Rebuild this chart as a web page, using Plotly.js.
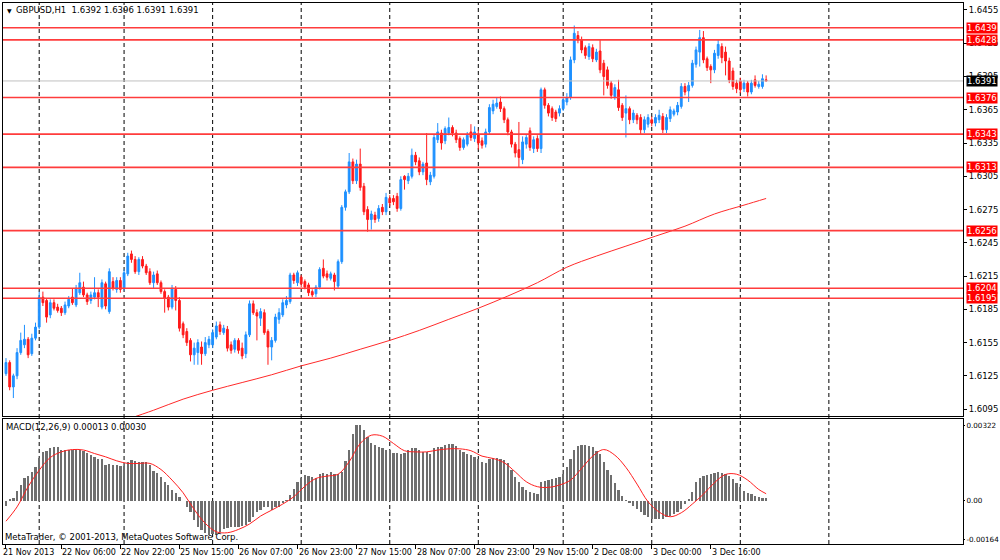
<!DOCTYPE html>
<html><head><meta charset="utf-8">
<script src="https://cdn.plot.ly/plotly-3.0.1.min.js"></script>
<style>html,body{margin:0;padding:0;background:#fff}#chart{width:1000px;height:560px}</style>
</head><body><div id="chart"></div>
<script>
// ---- price data (GBPUSD H1), one value per bar ----
const opens=[
1.6127,1.6137,1.6115,1.6125,1.6146,1.6153,1.6158,1.6145,1.6159,1.6169,
1.6196,1.6193,1.6180,1.6191,1.6187,1.6186,1.6182,1.6188,1.6196,1.6189,
1.6200,1.6205,1.6198,1.6193,1.6196,1.6200,1.6187,1.6208,1.6183,1.6210,
1.6203,1.6211,1.6204,1.6217,1.6235,1.6230,1.6219,1.6230,1.6224,1.6219,
1.6209,1.6217,1.6209,1.6201,1.6196,1.6187,1.6203,1.6193,1.6172,1.6165,
1.6157,1.6144,1.6146,1.6151,1.6145,1.6153,1.6153,1.6160,1.6171,1.6164,
1.6167,1.6153,1.6149,1.6157,1.6150,1.6145,1.6162,1.6190,1.6182,1.6177,
1.6182,1.6165,1.6151,1.6157,1.6176,1.6180,1.6189,1.6192,1.6216,1.6209,
1.6214,1.6210,1.6207,1.6201,1.6199,1.6205,1.6222,1.6217,1.6213,1.6216,
1.6206,1.6228,1.6277,1.6291,1.6318,1.6301,1.6316,1.6296,1.6275,1.6266,
1.6270,1.6267,1.6277,1.6273,1.6285,1.6285,1.6287,1.6276,1.6305,1.6301,
1.6305,1.6324,1.6319,1.6309,1.6317,1.6300,1.6305,1.6338,1.6344,1.6337,
1.6344,1.6349,1.6344,1.6339,1.6331,1.6334,1.6345,1.6339,1.6343,1.6337,
1.6334,1.6345,1.6364,1.6368,1.6372,1.6366,1.6356,1.6345,1.6334,1.6329,
1.6320,1.6334,1.6346,1.6330,1.6339,1.6330,1.6383,1.6369,1.6366,1.6363,
1.6362,1.6366,1.6372,1.6376,1.6410,1.6432,1.6428,1.6421,1.6413,1.6421,
1.6410,1.6418,1.6407,1.6401,1.6389,1.6377,1.6383,1.6369,1.6362,1.6366,
1.6356,1.6360,1.6358,1.6347,1.6352,1.6356,1.6353,1.6356,1.6359,1.6347,
1.6357,1.6361,1.6363,1.6368,1.6386,1.6382,1.6387,1.6406,1.6417,1.6430,
1.6411,1.6404,1.6401,1.6414,1.6422,1.6417,1.6409,1.6400,1.6389,1.6391,
1.6384,1.6389,1.6381,1.6392,1.6386,1.6386,1.6392];
const highs=[
1.6141,1.6139,1.6127,1.6150,1.6164,1.6171,1.6160,1.6163,1.6173,1.6201,
1.6201,1.6195,1.6194,1.6194,1.6190,1.6188,1.6192,1.6197,1.6204,1.6207,
1.6218,1.6210,1.6200,1.6201,1.6214,1.6203,1.6212,1.6210,1.6222,1.6214,
1.6214,1.6214,1.6221,1.6236,1.6238,1.6233,1.6232,1.6233,1.6226,1.6222,
1.6219,1.6220,1.6211,1.6203,1.6198,1.6207,1.6206,1.6196,1.6174,1.6168,
1.6159,1.6155,1.6158,1.6156,1.6160,1.6161,1.6167,1.6174,1.6174,1.6171,
1.6170,1.6156,1.6159,1.6159,1.6155,1.6165,1.6193,1.6193,1.6185,1.6186,
1.6185,1.6167,1.6160,1.6181,1.6186,1.6194,1.6197,1.6218,1.6218,1.6220,
1.6216,1.6212,1.6209,1.6203,1.6207,1.6223,1.6230,1.6220,1.6219,1.6218,
1.6230,1.6279,1.6293,1.6326,1.6321,1.6320,1.6330,1.6299,1.6278,1.6274,
1.6273,1.6279,1.6280,1.6290,1.6288,1.6288,1.6290,1.6305,1.6306,1.6308,
1.6330,1.6327,1.6322,1.6318,1.6344,1.6309,1.6343,1.6353,1.6347,1.6350,
1.6358,1.6351,1.6347,1.6341,1.6340,1.6345,1.6352,1.6350,1.6347,1.6340,
1.6348,1.6370,1.6374,1.6376,1.6377,1.6368,1.6358,1.6347,1.6336,1.6354,
1.6341,1.6343,1.6349,1.6341,1.6342,1.6385,1.6385,1.6371,1.6368,1.6365,
1.6369,1.6377,1.6380,1.6413,1.6441,1.6436,1.6431,1.6423,1.6425,1.6424,
1.6420,1.6428,1.6410,1.6404,1.6391,1.6388,1.6392,1.6371,1.6378,1.6368,
1.6365,1.6362,1.6361,1.6359,1.6361,1.6359,1.6361,1.6365,1.6362,1.6361,
1.6368,1.6366,1.6372,1.6389,1.6389,1.6390,1.6410,1.6422,1.6437,1.6436,
1.6413,1.6406,1.6419,1.6428,1.6425,1.6422,1.6412,1.6403,1.6392,1.6394,
1.6392,1.6391,1.6392,1.6396,1.6391,1.6397,1.6396];
const lows=[
1.6125,1.6112,1.6105,1.6122,1.6144,1.6150,1.6141,1.6143,1.6157,1.6167,
1.6188,1.6173,1.6177,1.6184,1.6182,1.6179,1.6180,1.6186,1.6189,1.6187,
1.6198,1.6196,1.6189,1.6190,1.6194,1.6187,1.6185,1.6185,1.6181,1.6202,
1.6200,1.6200,1.6202,1.6215,1.6227,1.6217,1.6216,1.6222,1.6216,1.6207,
1.6204,1.6207,1.6199,1.6182,1.6184,1.6185,1.6184,1.6165,1.6159,1.6152,
1.6138,1.6135,1.6135,1.6135,1.6143,1.6150,1.6150,1.6158,1.6162,1.6162,
1.6147,1.6145,1.6146,1.6145,1.6140,1.6141,1.6160,1.6180,1.6157,1.6170,
1.6162,1.6135,1.6139,1.6155,1.6172,1.6178,1.6186,1.6190,1.6208,1.6206,
1.6205,1.6203,1.6197,1.6196,1.6196,1.6203,1.6213,1.6211,1.6211,1.6202,
1.6204,1.6226,1.6274,1.6289,1.6298,1.6298,1.6292,1.6270,1.6255,1.6257,
1.6263,1.6264,1.6270,1.6270,1.6278,1.6279,1.6273,1.6274,1.6293,1.6298,
1.6303,1.6315,1.6306,1.6306,1.6297,1.6297,1.6303,1.6335,1.6329,1.6334,
1.6342,1.6341,1.6335,1.6328,1.6329,1.6332,1.6337,1.6336,1.6329,1.6330,
1.6331,1.6343,1.6361,1.6366,1.6363,1.6353,1.6342,1.6331,1.6322,1.6313,
1.6316,1.6330,1.6328,1.6326,1.6327,1.6326,1.6366,1.6359,1.6355,1.6354,
1.6359,1.6364,1.6369,1.6374,1.6407,1.6425,1.6416,1.6411,1.6410,1.6408,
1.6408,1.6398,1.6378,1.6384,1.6375,1.6374,1.6364,1.6355,1.6340,1.6352,
1.6353,1.6352,1.6343,1.6344,1.6349,1.6350,1.6350,1.6353,1.6344,1.6344,
1.6354,1.6359,1.6360,1.6366,1.6378,1.6372,1.6385,1.6403,1.6404,1.6407,
1.6400,1.6389,1.6398,1.6411,1.6407,1.6396,1.6389,1.6383,1.6380,1.6380,
1.6381,1.6377,1.6379,1.6385,1.6384,1.6384,1.6391];
const closes=[
1.6137,1.6115,1.6125,1.6146,1.6157,1.6158,1.6144,1.6159,1.6169,1.6196,
1.6191,1.6178,1.6191,1.6186,1.6184,1.6182,1.6189,1.6194,1.6191,1.6204,
1.6209,1.6198,1.6192,1.6198,1.6200,1.6196,1.6209,1.6188,1.6219,1.6204,
1.6211,1.6203,1.6218,1.6233,1.6230,1.6219,1.6230,1.6224,1.6218,1.6209,
1.6216,1.6209,1.6201,1.6195,1.6187,1.6204,1.6193,1.6168,1.6162,1.6155,
1.6144,1.6150,1.6155,1.6145,1.6155,1.6158,1.6164,1.6170,1.6165,1.6168,
1.6150,1.6148,1.6157,1.6148,1.6143,1.6162,1.6190,1.6182,1.6179,1.6183,
1.6164,1.6151,1.6157,1.6178,1.6182,1.6191,1.6193,1.6216,1.6211,1.6218,
1.6208,1.6205,1.6200,1.6198,1.6205,1.6221,1.6215,1.6214,1.6217,1.6210,
1.6228,1.6277,1.6291,1.6318,1.6301,1.6316,1.6295,1.6273,1.6266,1.6271,
1.6266,1.6276,1.6273,1.6286,1.6281,1.6282,1.6276,1.6302,1.6302,1.6305,
1.6324,1.6318,1.6309,1.6316,1.6302,1.6306,1.6340,1.6345,1.6335,1.6348,
1.6349,1.6344,1.6338,1.6331,1.6338,1.6342,1.6340,1.6345,1.6335,1.6333,
1.6345,1.6367,1.6370,1.6371,1.6366,1.6356,1.6345,1.6334,1.6326,1.6322,
1.6336,1.6340,1.6331,1.6338,1.6330,1.6383,1.6369,1.6362,1.6358,1.6357,
1.6366,1.6374,1.6376,1.6410,1.6434,1.6428,1.6419,1.6414,1.6422,1.6411,
1.6417,1.6401,1.6395,1.6387,1.6378,1.6385,1.6367,1.6358,1.6366,1.6356,
1.6362,1.6356,1.6347,1.6356,1.6358,1.6353,1.6358,1.6360,1.6347,1.6358,
1.6365,1.6364,1.6369,1.6386,1.6381,1.6387,1.6407,1.6419,1.6430,1.6410,
1.6403,1.6401,1.6416,1.6424,1.6412,1.6409,1.6392,1.6386,1.6384,1.6383,
1.6389,1.6381,1.6389,1.6387,1.6388,1.6393,1.6391];

// moving average (red line in price pane), read at selected bars
const maBars=[33,40,48,56,64,72,80,88,96,104,112,120,128,136,144,152,160,168,176,184,192,200,206];
const maVals=[1.6086,1.6094,1.6104,1.6112,1.6119,1.6126,1.6134,1.6141,1.6149,1.6157,1.6166,1.6176,1.6186,1.6197,1.6209,1.6223,1.6233,1.6242,1.6251,1.6260,1.6271,1.6279,1.6285];

// MACD(12,26,9) main histogram, one value per bar
const macdHist=[
-0.00023,0.00006,0.00010,0.00043,0.00067,0.00095,0.00105,0.00123,0.00142,0.00180,
0.00208,0.00213,0.00223,0.00227,0.00227,0.00218,0.00216,0.00216,0.00216,0.00218,
0.00218,0.00213,0.00204,0.00194,0.00187,0.00176,0.00176,0.00152,0.00156,0.00152,
0.00152,0.00147,0.00147,0.00166,0.00173,0.00170,0.00166,0.00166,0.00166,0.00152,
0.00128,0.00119,0.00102,0.00081,0.00067,0.00045,0.00031,0.00014,-0.00002,-0.00026,
-0.00047,-0.00082,-0.00111,-0.00125,-0.00136,-0.00146,-0.00142,-0.00146,-0.00132,-0.00122,
-0.00118,-0.00113,-0.00113,-0.00111,-0.00108,-0.00104,-0.00089,-0.00068,-0.00047,-0.00040,
-0.00028,-0.00026,-0.00040,-0.00028,-0.00026,-0.00011,0.00003,0.00024,0.00052,0.00081,
0.00095,0.00109,0.00105,0.00102,0.00095,0.00113,0.00119,0.00116,0.00123,0.00113,
0.00113,0.00123,0.00170,0.00215,0.00286,0.00322,0.00322,0.00301,0.00272,0.00247,
0.00237,0.00227,0.00223,0.00218,0.00216,0.00204,0.00204,0.00201,0.00204,0.00216,
0.00223,0.00223,0.00218,0.00208,0.00208,0.00199,0.00223,0.00227,0.00227,0.00237,
0.00241,0.00241,0.00233,0.00218,0.00208,0.00201,0.00194,0.00187,0.00176,0.00166,
0.00162,0.00176,0.00183,0.00183,0.00176,0.00173,0.00159,0.00130,0.00102,0.00081,
0.00057,0.00045,0.00038,0.00031,0.00028,0.00081,0.00085,0.00088,0.00092,0.00095,
0.00102,0.00113,0.00142,0.00176,0.00218,0.00233,0.00237,0.00237,0.00233,0.00230,
0.00213,0.00201,0.00166,0.00130,0.00109,0.00077,0.00045,0.00020,0.00003,-0.00009,
-0.00023,-0.00033,-0.00047,-0.00061,-0.00071,-0.00077,-0.00079,-0.00077,-0.00079,-0.00071,
-0.00065,-0.00057,-0.00047,-0.00033,-0.00014,0.00006,0.00038,0.00081,0.00099,0.00106,
0.00109,0.00112,0.00119,0.00123,0.00119,0.00116,0.00105,0.00091,0.00077,0.00057,
0.00043,0.00034,0.00028,0.00020,0.00014,0.00010,0.00013];

// MACD signal line, read at selected bars
const sigBars=[0,3,6,9,12,15,18,21,24,27,30,33,36,39,42,45,48,51,54,57,60,63,66,69,72,75,78,81,84,87,90,93,96,99,102,105,
108,111,114,117,120,123,126,129,132,135,138,141,144,147,150,153,156,159,162,165,168,171,174,177,180,183,186,189,192,195,198,201,204,206];
const sigVals=[-0.00087,-0.00026,0.00060,0.00130,0.00184,0.00208,0.00218,0.00216,0.00201,0.00187,0.00170,0.00159,0.00159,0.00159,0.00133,0.00088,0.00034,-0.00037,-0.00096,-0.00132,-0.00136,-0.00122,-0.00099,-0.00065,-0.00040,-0.00014,0.00017,0.00062,0.00095,0.00105,0.00113,0.00166,0.00244,0.00279,0.00275,0.00244,
0.00213,0.00208,0.00208,0.00216,0.00221,0.00221,0.00213,0.00190,0.00180,0.00162,0.00123,0.00081,0.00060,0.00057,0.00067,0.00088,0.00138,0.00190,0.00218,0.00194,0.00142,0.00071,-0.00004,-0.00048,-0.00068,-0.00051,-0.00014,0.00028,0.00077,0.00112,0.00113,0.00088,0.00048,0.00030];

// horizontal levels and current price
const levels=[1.6439,1.6428,1.6376,1.6343,1.6313,1.6256,1.6204,1.6195];
const currentPrice=1.6391;
const priceTicks=[1.6095,1.6125,1.6155,1.6185,1.6215,1.6245,1.6275,1.6305,1.6335,1.6365,1.6395,1.6425,1.6455];
const macdTicks=[0.00322,0,-0.00164];
const macdTickText=['0.00322','0.00','-0.00164'];

// time axis
const labelBars=[0,15,31,47,63,79,95,111,127,143,159,175,191];
const labelTexts=['21 Nov 2013','22 Nov 06:00','22 Nov 22:00','25 Nov 15:00','26 Nov 07:00','26 Nov 23:00','27 Nov 15:00','28 Nov 07:00','28 Nov 23:00','29 Nov 15:00','2 Dec 08:00','3 Dec 00:00','3 Dec 16:00'];
const gridBars=[9,32,56,80,104,128,151,175,199,223];

const headerText='GBPUSD,H1\u00a0\u00a01.6392 1.6396 1.6391 1.6391';
const macdText='MACD(12,26,9) 0.00013 0.00030';
const copyText='MetaTrader, \u00a9 2001-2013, MetaQuotes Software Corp.';

// ---- drawing ----
const bars=closes.map((_,i)=>i);
const FONT='DejaVu Sans, Verdana, sans-serif';
const XR=[-0.81,259.35];
const py=y=>(544-y)/541;   // pixel row -> paper y
const px=x=>(x-3)/960;     // pixel col -> paper x

const traces=[
 {type:'candlestick',x:bars,open:opens,high:highs,low:lows,close:closes,xaxis:'x',yaxis:'y',
  increasing:{line:{color:'#1e90ff',width:1},fillcolor:'#1e90ff'},
  decreasing:{line:{color:'#ff1a1a',width:1},fillcolor:'#ff1a1a'},
  whiskerwidth:0,hoverinfo:'skip'},
 {type:'scatter',mode:'lines',x:maBars,y:maVals,xaxis:'x',yaxis:'y',line:{color:'#ff2a2a',width:1,shape:'spline'},hoverinfo:'skip'},
 {type:'bar',x:bars,y:macdHist,xaxis:'x2',yaxis:'y2',width:0.62,marker:{color:'#6e6e6e',line:{width:0}},hoverinfo:'skip'},
 {type:'scatter',mode:'lines',x:sigBars,y:sigVals,xaxis:'x2',yaxis:'y2',line:{color:'#ff2020',width:1,shape:'spline'},hoverinfo:'skip'}
];

const shapes=[];
gridBars.forEach(g=>shapes.push({type:'line',xref:'x',yref:'paper',x0:g,x1:g,y0:0,y1:1,layer:'below',line:{color:'#000',width:1,dash:'4px,3px'}}));
shapes.push({type:'line',xref:'paper',yref:'y',x0:0,x1:1,y0:currentPrice,y1:currentPrice,line:{color:'#c0c0c0',width:1}});
levels.forEach(l=>shapes.push({type:'line',xref:'paper',yref:'y',x0:0,x1:1,y0:l,y1:l,line:{color:'#ff3c3c',width:1.6}}));

const annotations=[];
levels.forEach(l=>annotations.push({xref:'paper',yref:'y',x:px(966),y:l,xanchor:'left',yanchor:'middle',showarrow:false,
  text:l.toFixed(4),bgcolor:'#ff0000',borderpad:0,font:{family:FONT,size:8.5,color:'#fff'}}));
annotations.push({xref:'paper',yref:'y',x:px(966),y:currentPrice,xanchor:'left',yanchor:'middle',showarrow:false,
  text:currentPrice.toFixed(4),bgcolor:'#000',borderpad:0,font:{family:FONT,size:8.5,color:'#fff'}});
annotations.push({xref:'paper',yref:'paper',x:px(5),y:py(10),xanchor:'left',yanchor:'middle',showarrow:false,text:'\u25BC',font:{family:FONT,size:6,color:'#000'}});
annotations.push({xref:'paper',yref:'paper',x:px(14),y:py(10),xanchor:'left',yanchor:'middle',showarrow:false,text:headerText,font:{family:FONT,size:8.5,color:'#000'}});
annotations.push({xref:'paper',yref:'paper',x:px(4),y:py(427),xanchor:'left',yanchor:'middle',showarrow:false,text:macdText,font:{family:FONT,size:8.5,color:'#000'}});
annotations.push({xref:'paper',yref:'paper',x:px(3),y:py(537),xanchor:'left',yanchor:'middle',showarrow:false,text:copyText,font:{family:FONT,size:8.5,color:'#000'}});
labelBars.forEach((b,k)=>annotations.push({xref:'x2',yref:'paper',x:b,y:py(552),xanchor:'left',yanchor:'middle',showarrow:false,
  xshift:(k===0?-5:-1),text:labelTexts[k],font:{family:FONT,size:8,color:'#000'}}));

const layout={
 width:1000,height:560,margin:{l:3,r:37,t:3,b:16},
 paper_bgcolor:'#fff',plot_bgcolor:'#fff',showlegend:false,
 font:{family:FONT,size:8.5,color:'#000'},
 xaxis:{domain:[0,1],range:XR,anchor:'y',showgrid:false,zeroline:false,showticklabels:false,ticks:'',
   showline:true,mirror:true,linecolor:'#000',linewidth:1,rangeslider:{visible:false},fixedrange:true},
 yaxis:{domain:[py(416),1],range:[1.60888,1.64613],side:'right',anchor:'x',tickvals:priceTicks,tickformat:'.4f',
   ticks:'outside',ticklen:3,tickcolor:'#000',showgrid:false,zeroline:false,showline:true,mirror:true,linecolor:'#000',linewidth:1,
   tickfont:{family:FONT,size:8.5,color:'#000'}},
 xaxis2:{domain:[0,1],range:XR,anchor:'y2',showgrid:false,zeroline:false,showticklabels:false,tickvals:labelBars,
   ticks:'outside',ticklen:4,tickcolor:'#000',showline:true,mirror:true,linecolor:'#000',linewidth:1},
 yaxis2:{domain:[0,py(419)],range:[-0.00184,0.00348],side:'right',anchor:'x2',tickvals:macdTicks,ticktext:macdTickText,
   ticks:'outside',ticklen:1,tickcolor:'#000',showgrid:false,zeroline:false,showline:true,mirror:true,linecolor:'#000',linewidth:1,
   tickfont:{family:FONT,size:7.2,color:'#000'}},
 shapes:shapes,annotations:annotations,bargap:0
};
Plotly.newPlot('chart',traces,layout,{staticPlot:true,displayModeBar:false});
</script></body></html>
